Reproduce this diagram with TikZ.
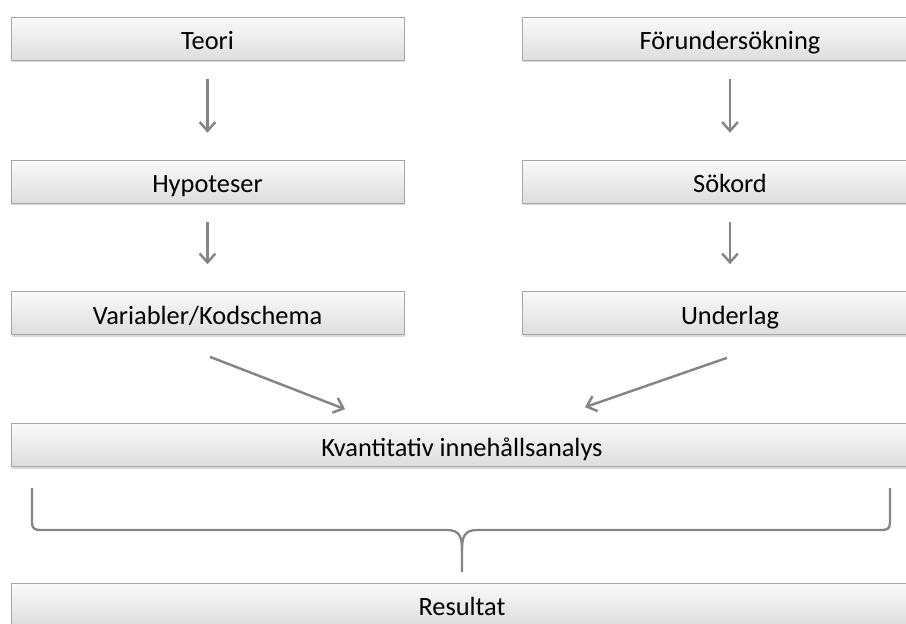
\documentclass[tikz,border=0pt]{standalone}
\usepackage{fontspec}
\setmainfont{Carlito}
\usetikzlibrary{arrows.meta,shadows,positioning}

\tikzset{
  stagebox/.style={rectangle, draw=gray!70, top color=gray!4, bottom color=gray!26,
    minimum height=0.86cm, inner sep=0pt, text height=13.5pt, text depth=0.5pt,
    font=\fontsize{15}{17}\selectfont,
    drop shadow={shadow xshift=0.3pt, shadow yshift=-1.2pt, opacity=0.3}},
  flow/.style={draw=black!48, line width=1.4pt, -{Straight Barb[length=5pt,width=9pt]}},
  bracket/.style={draw=black!48, line width=1.3pt, line join=round}
}

\begin{document}
\begin{tikzpicture}
   \useasboundingbox (0,0) rectangle (18.12,-12.46);
   \clip (0,0) rectangle (18.12,-12.46);
   % left column
   \node[stagebox, minimum width=7.86cm] (teori) at (4.15,-0.77) {Teori};
   \node[stagebox, minimum width=7.86cm] (hyp) at (4.15,-3.63) {Hypoteser};
   \node[stagebox, minimum width=7.86cm] (var) at (4.15,-6.26) {Variabler/Kodschema};
   % right column
   \node[stagebox, minimum width=8.32cm] (forund) at (14.6,-0.77) {Förundersökning};
   \node[stagebox, minimum width=8.32cm] (sok) at (14.6,-3.63) {Sökord};
   \node[stagebox, minimum width=8.32cm] (underlag) at (14.6,-6.26) {Underlag};
   % wide boxes
   \node[stagebox, minimum width=18.04cm] (kva) at (9.24,-8.9) {Kvantitativ innehållsanalys};
   \node[stagebox, minimum width=18.04cm] (res) at (9.24,-12.09) {Resultat};

   \draw[flow, shorten <=0.38cm, shorten >=0.54cm] (teori) -- (hyp);
   \draw[flow, shorten <=0.38cm, shorten >=0.54cm] (hyp) -- (var);
   \draw[flow, shorten <=0.38cm, shorten >=0.54cm] (forund) -- (sok);
   \draw[flow, shorten <=0.38cm, shorten >=0.54cm] (sok) -- (underlag);
   \draw[flow] ([xshift=0.05cm,yshift=-0.44cm]var.south) -- ([xshift=-2.34cm,yshift=0.28cm]kva.north);
   \draw[flow] ([xshift=-0.06cm,yshift=-0.46cm]underlag.south) -- ([xshift=2.46cm,yshift=0.32cm]kva.north);

   % brace
   \draw[bracket] (0.64,-9.76) -- (0.64,-10.45) .. controls (0.64,-10.58) and (0.7,-10.6) .. (0.82,-10.6)
     -- (8.94,-10.6) .. controls (9.2,-10.6) and (9.24,-10.75) .. (9.24,-11.0) -- (9.24,-11.44);
   \draw[bracket] (9.24,-11.0) .. controls (9.24,-10.75) and (9.28,-10.6) .. (9.54,-10.6)
     -- (17.62,-10.6) .. controls (17.74,-10.6) and (17.8,-10.58) .. (17.8,-10.45) -- (17.8,-9.76);
\end{tikzpicture}
\end{document}
